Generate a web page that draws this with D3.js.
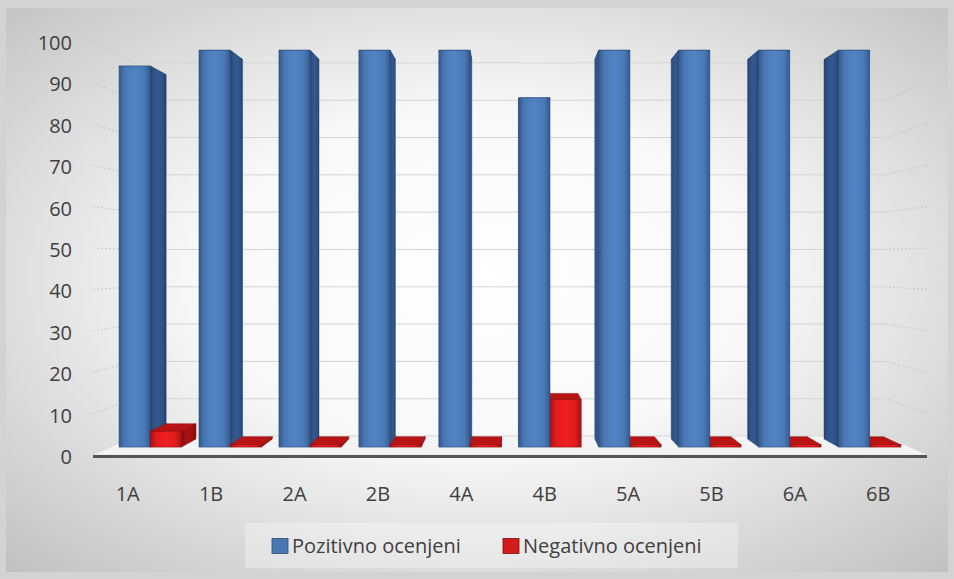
<html>
<script src='https://d3js.org/d3.v7.min.js'></script>
<style>
body {margin:0; background:#d6d6d6;}
text {font-family:'Open Sans', sans-serif; fill:#404040;}
</style>
<body onload='init()'>
<svg width=954 height=579></svg>
<script>
var categories = ['1A','1B','2A','2B','4A','4B','5A','5B','6A','6B']
var positive = [96,100,100,100,100,88,100,100,100,100]
var negative = [4,0,0,0,0,12,0,0,0,0]
var seriesNames = ['Pozitivno ocenjeni','Negativno ocenjeni']
var yTicks = [0,10,20,30,40,50,60,70,80,90,100]

function init() {
  var svg = d3.select('svg')
  var defs = svg.append('defs')

  // background
  var bg = defs.append('radialGradient').attr('id','bg').attr('cx','50%').attr('cy','48%').attr('r','75%')
  bg.append('stop').attr('offset','0%').attr('stop-color','#ffffff')
  bg.append('stop').attr('offset','40%').attr('stop-color','#f8f8f8')
  bg.append('stop').attr('offset','100%').attr('stop-color','#bdbdbd')
  svg.append('rect').attr('width',954).attr('height',579).attr('fill','#d3d3d3')
  svg.append('rect').attr('x',6).attr('y',8).attr('width',942).attr('height',564).attr('fill','url(#bg)')

  function faceGrad(id, edge, mid) {
    var g = defs.append('linearGradient').attr('id',id)
    g.append('stop').attr('offset','0%').attr('stop-color',edge)
    g.append('stop').attr('offset','18%').attr('stop-color',mid)
    g.append('stop').attr('offset','50%').attr('stop-color',d3.color(mid).brighter(0.25))
    g.append('stop').attr('offset','82%').attr('stop-color',mid)
    g.append('stop').attr('offset','100%').attr('stop-color',edge)
  }
  faceGrad('blueFront','#34598e','#4a78b4')
  faceGrad('blueSide','#203a5e','#2e5184')
  faceGrad('redFront','#a81010','#dc1c1c')
  faceGrad('redSide','#7a0808','#9c0e0e')

  var x = d3.scaleBand().domain(categories).range([93,927])
  var yFront = d3.scaleLinear().domain([0,100]).range([455,41])
  var vp = {x:510, y:263}, K = 0.0986
  var z1 = 0.42, z2 = 0.85

  function proj(X, v, Z) {
    var y0 = yFront(v), f = K*Z
    return [X + (vp.x - X)*f, y0 + (vp.y - y0)*f]
  }
  var line = d3.line()

  // back wall gridlines
  svg.append('g').selectAll('line').data(yTicks).enter().append('line')
    .attr('x1',function(d){return proj(x.range()[0],d,1)[0]})
    .attr('y1',function(d){return proj(x.range()[0],d,1)[1]})
    .attr('x2',function(d){return proj(x.range()[1],d,1)[0]})
    .attr('y2',function(d){return proj(x.range()[1],d,1)[1]})
    .attr('stroke','#d4d4d4').attr('stroke-width',1)

  // side wall dotted gridlines
  var sides = []
  yTicks.forEach(function(d){ sides.push([x.range()[0],d]); sides.push([x.range()[1],d]) })
  svg.append('g').selectAll('path').data(sides).enter().append('path')
    .attr('d',function(d){return line([proj(d[0],d[1],0), proj(d[0],d[1],1)])})
    .attr('stroke','#c2c2c2').attr('stroke-width',1.2).attr('stroke-dasharray','1.5,2.5').attr('fill','none')

  // floor
  var r0 = x.range()[0], r1 = x.range()[1]
  svg.append('path')
    .attr('d',line([proj(r0,0,0),proj(r1,0,0),proj(r1,0,1),proj(r0,0,1)])+'Z')
    .attr('fill','#f4f4f4').attr('stroke','#e0e0e0')
  svg.append('line')
    .attr('x1',r0).attr('x2',r1).attr('y1',yFront(0)+1.5).attr('y2',yFront(0)+1.5)
    .attr('stroke','#555555').attr('stroke-width',3)

  // bars
  var bw = x.bandwidth()*0.39
  var bars = []
  categories.forEach(function(c,i){
    var cx = x(c) + x.bandwidth()/2
    bars.push({x0:cx-bw, x1:cx, v:positive[i], s:0})
    bars.push({x0:cx, x1:cx+bw, v:negative[i], s:1})
  })
  bars.sort(function(a,b){
    return Math.abs((b.x0+b.x1)/2 - vp.x) - Math.abs((a.x0+a.x1)/2 - vp.x)
  })
  var colors = [{front:'url(#blueFront)',side:'url(#blueSide)',top:'#3f6aa3',stroke:'#2b4c7c'},
                {front:'url(#redFront)',side:'url(#redSide)',top:'#b81414',stroke:'#8a0a0a'}]
  var gBars = svg.append('g')
  bars.forEach(function(b){
    var col = colors[b.s]
    var h = Math.max(b.v, 0.6)
    var g = gBars.append('g')
    // top
    g.append('path')
      .attr('d',line([proj(b.x0,h,z1),proj(b.x1,h,z1),proj(b.x1,h,z2),proj(b.x0,h,z2)])+'Z')
      .attr('fill',col.top).attr('stroke',col.stroke).attr('stroke-width',0.5)
    // side facing the vanishing point
    var sx = ((b.x0+b.x1)/2 < vp.x) ? b.x1 : b.x0
    g.append('path')
      .attr('d',line([proj(sx,0,z1),proj(sx,h,z1),proj(sx,h,z2),proj(sx,0,z2)])+'Z')
      .attr('fill',col.side).attr('stroke',col.stroke).attr('stroke-width',0.5)
    // front
    var p0 = proj(b.x0,h,z1), p1 = proj(b.x1,0,z1)
    g.append('rect')
      .attr('x',p0[0]).attr('y',p0[1]).attr('width',p1[0]-p0[0]).attr('height',p1[1]-p0[1])
      .attr('fill',col.front).attr('stroke',col.stroke).attr('stroke-width',0.6)
  })

  // y axis labels
  svg.append('g').selectAll('text').data(yTicks).enter().append('text')
    .attr('x',72).attr('y',function(d){return yFront(d)+2})
    .attr('dy','0.35em').attr('text-anchor','end').attr('font-size',20)
    .text(function(d){return d})

  // x axis labels
  svg.append('g').selectAll('text').data(categories).enter().append('text')
    .attr('x',function(d){return x(d)+x.bandwidth()/2-7})
    .attr('y',494).attr('dy','0.35em').attr('text-anchor','middle').attr('font-size',20)
    .text(function(d){return d})

  // legend
  svg.append('rect').attr('x',245).attr('y',523).attr('width',493).attr('height',45)
    .attr('fill','#ffffff').attr('fill-opacity',0.3)
  var legendX = [272,503]
  var legendFill = ['#4a78b4','#d01c1c']
  var legendStroke = ['#2b4c7c','#8a0a0a']
  var lg = svg.append('g').selectAll('g').data(seriesNames).enter().append('g')
    .attr('transform',function(d,i){return 'translate('+legendX[i]+',546)'})
  lg.append('rect').attr('x',0).attr('y',-7.5).attr('width',16).attr('height',15)
    .attr('fill',function(d,i){return legendFill[i]}).attr('stroke',function(d,i){return legendStroke[i]}).attr('stroke-width',0.8)
  lg.append('text').attr('x',20).attr('y',0).attr('dy','0.35em').attr('font-size',20)
    .text(function(d){return d})
}
</script>
</body>
</html>
